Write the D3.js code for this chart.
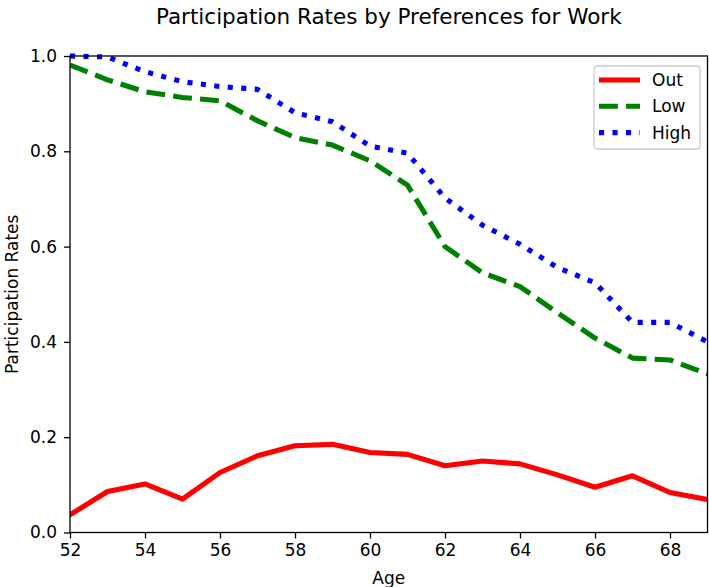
<!DOCTYPE html>
<html>
<head>
<meta charset="utf-8">
<script src="https://cdn.jsdelivr.net/npm/d3@7"></script>
<style>
  body { margin: 0; background: #fff; }
  text { font-family: "DejaVu Sans", sans-serif; fill: #000; }
</style>
</head>
<body>
<div id="chart"></div>
<script>
const ages = d3.range(52, 70)
const outRates = [0.037, 0.086, 0.102, 0.070, 0.126, 0.161, 0.182, 0.185, 0.168,
  0.164, 0.140, 0.150, 0.144, 0.121, 0.095, 0.119, 0.084, 0.069]
const lowRates = [0.981, 0.950, 0.925, 0.913, 0.906, 0.864, 0.829, 0.813, 0.780,
  0.729, 0.600, 0.545, 0.516, 0.461, 0.408, 0.366, 0.362, 0.333]
const highRates = [1.0, 0.998, 0.967, 0.946, 0.936, 0.930, 0.881, 0.862, 0.811,
  0.796, 0.702, 0.645, 0.605, 0.556, 0.524, 0.441, 0.441, 0.400]
const xTicks = [52, 54, 56, 58, 60, 62, 64, 66, 68]
const yTicks = [0, 0.2, 0.4, 0.6, 0.8, 1.0]

const lw = 5.1
const series = [
  { name: 'Out', values: outRates, color: '#ff0000', dash: null, cap: 'square' },
  { name: 'Low', values: lowRates, color: '#008000', dash: `${3.7 * lw},${1.6 * lw}`, cap: 'butt' },
  { name: 'High', values: highRates, color: '#0000ff', dash: `${lw},${1.65 * lw}`, cap: 'butt' }
]

const width = 709, height = 587
const margin = { top: 56, right: 1, bottom: 55, left: 70 }

const svg = d3.select('#chart').append('svg')
  .attr('width', width)
  .attr('height', height)

const x = d3.scaleLinear().domain([52, 69]).range([margin.left, width - margin.right - 0.5])
const y = d3.scaleLinear().domain([0, 1]).range([height - margin.bottom + 0.5, margin.top])

const line = d3.line()
  .x((d, i) => x(ages[i]))
  .y(d => y(d))

svg.append('clipPath').attr('id', 'plot-clip')
  .append('rect')
  .attr('x', x(52)).attr('y', y(1) - 3)
  .attr('width', x(69) - x(52)).attr('height', y(0) - y(1) + 6)

svg.append('g').attr('clip-path', 'url(#plot-clip)')
  .selectAll('path.series')
  .data(series)
  .enter().append('path')
  .attr('class', 'series')
  .attr('d', d => line(d.values))
  .attr('fill', 'none')
  .attr('stroke', d => d.color)
  .attr('stroke-width', lw)
  .attr('stroke-dasharray', d => d.dash)
  .attr('stroke-linecap', d => d.cap)
  .attr('stroke-linejoin', 'round')

// axes
const xAxis = svg.append('g')
  .attr('transform', `translate(0,${y(0)})`)
  .call(d3.axisBottom(x).tickValues(xTicks).tickFormat(d3.format('d')).tickSize(6).tickPadding(5))
const yAxis = svg.append('g')
  .attr('transform', `translate(${x(52)},0)`)
  .call(d3.axisLeft(y).tickValues(yTicks).tickFormat(d3.format('.1f')).tickSize(6).tickPadding(7))

for (const ax of [xAxis, yAxis]) {
  ax.select('.domain').remove()
  ax.selectAll('line').attr('stroke', '#000').attr('stroke-width', 1.3)
  ax.selectAll('text').style('font-size', '17px').attr('fill', '#000')
}

// frame
svg.append('rect')
  .attr('x', x(52)).attr('y', y(1))
  .attr('width', x(69) - x(52)).attr('height', y(0) - y(1))
  .attr('fill', 'none')
  .attr('stroke', '#000')
  .attr('stroke-width', 1.3)

svg.append('text')
  .attr('x', (x(52) + x(69)) / 2)
  .attr('y', 24)
  .attr('text-anchor', 'middle')
  .style('font-size', '21.5px')
  .text('Participation Rates by Preferences for Work')

svg.append('text')
  .attr('x', (x(52) + x(69)) / 2)
  .attr('y', 584)
  .attr('text-anchor', 'middle')
  .style('font-size', '17px')
  .text('Age')

svg.append('text')
  .attr('transform', `translate(18,${(y(0) + y(1)) / 2}) rotate(-90)`)
  .attr('text-anchor', 'middle')
  .style('font-size', '17px')
  .text('Participation Rates')

// legend
const legend = svg.append('g').attr('transform', 'translate(594,66)')
legend.append('rect')
  .attr('width', 106).attr('height', 83)
  .attr('rx', 3)
  .attr('fill', '#fff').attr('fill-opacity', 0.8)
  .attr('stroke', '#cccccc').attr('stroke-width', 1.3)

const item = legend.selectAll('g.item')
  .data(series)
  .enter().append('g')
  .attr('class', 'item')
  .attr('transform', (d, i) => `translate(0,${14 + i * 26.3})`)

item.append('line')
  .attr('x1', 5).attr('x2', 46)
  .attr('stroke', d => d.color)
  .attr('stroke-width', lw)
  .attr('stroke-dasharray', d => d.dash)
  .attr('stroke-linecap', 'butt')

item.append('text')
  .attr('x', 58).attr('y', 6)
  .style('font-size', '17px')
  .text(d => d.name)
</script>
</body>
</html>
